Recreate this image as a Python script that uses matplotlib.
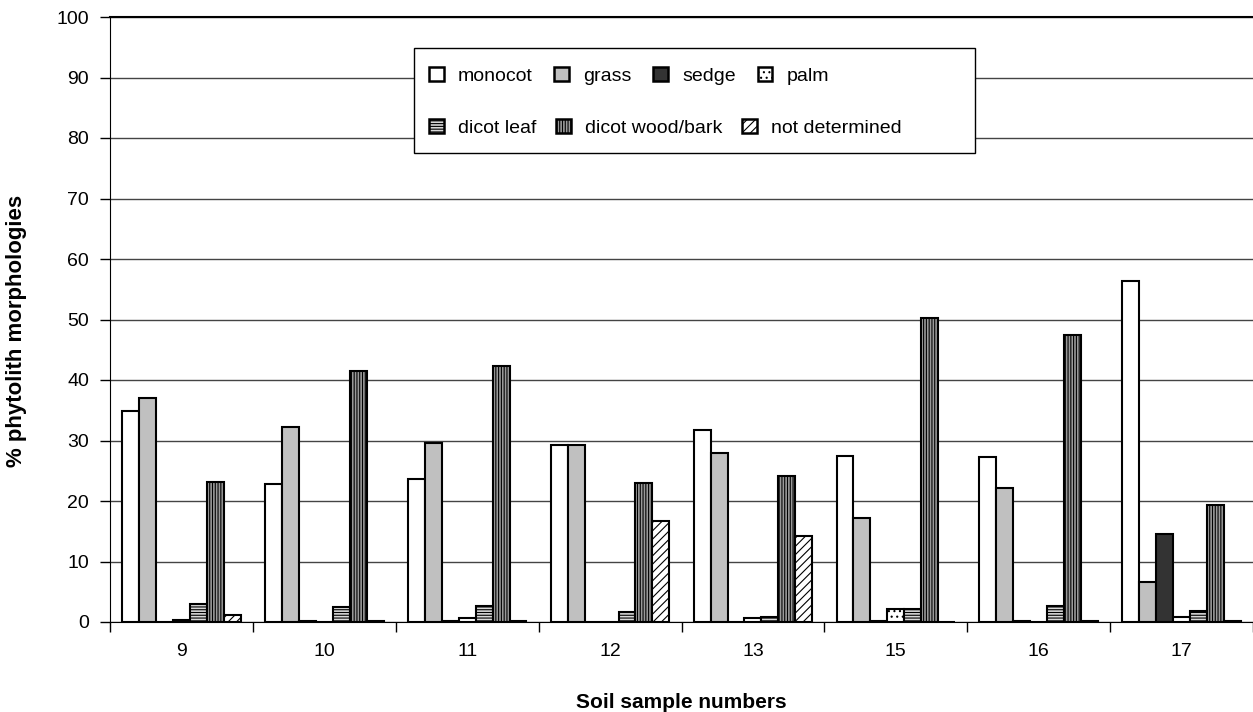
import matplotlib
matplotlib.use("Agg")
import matplotlib.pyplot as plt
import numpy as np
from matplotlib.patches import Patch, Rectangle

samples = ["9", "10", "11", "12", "13", "15", "16", "17"]
monocot = [34.9, 22.8, 23.6, 29.2, 31.8, 27.4, 27.3, 56.4]
grass = [37.1, 32.2, 29.6, 29.2, 27.9, 17.2, 22.2, 6.6]
sedge = [0.0, 0.2, 0.1, 0.0, 0.0, 0.2, 0.2, 14.5]
palm = [0.3, 0.0, 0.7, 0.0, 0.7, 2.2, 0.0, 0.8]
dicot_leaf = [2.9, 2.5, 2.6, 1.7, 0.9, 2.2, 2.6, 1.9]
dicot_wood = [23.1, 41.5, 42.3, 22.9, 24.2, 50.3, 47.4, 19.3]
not_determined = [1.2, 0.2, 0.1, 16.7, 14.2, 0.0, 0.2, 0.1]

# name, values, bar face, bar hatch
series = [
    ("monocot", monocot, "white", ""),
    ("grass", grass, "#c0c0c0", ""),
    ("sedge", sedge, "#333333", ""),
    ("palm", palm, "white", "..."),
    ("dicot leaf", dicot_leaf, "#d8d8d8", "------"),
    ("dicot wood/bark", dicot_wood, "#9a9a9a", "||||||"),
    ("not determined", not_determined, "white", "////"),
]

plt.rcParams["font.family"] = ["Liberation Sans", "DejaVu Sans"]
plt.rcParams["hatch.linewidth"] = 0.8

W, H = 1253, 712
fig = plt.figure(figsize=(W / 100, H / 100), dpi=100)
ax = fig.add_axes([110 / W, (H - 622) / H, 1 - 110 / W, (622 - 17) / H])


def ax_x(px):
    return (px - 110) / (W - 110)


def ax_y(py):
    return (622 - py) / (622 - 17)


x = np.arange(len(samples))
n = len(series)
bw = 0.83 / n
handles = []
for i, (name, vals, fc, hatch) in enumerate(series):
    pos = x - 0.415 + bw * (i + 0.5)
    ax.bar(pos, vals, width=bw, color=fc, edgecolor="black", linewidth=1.5,
           hatch=hatch, zorder=3)
    handles.append(Patch(facecolor=fc, edgecolor="black", linewidth=1.8,
                         hatch=hatch, label=name))

ax.set_xlim(-0.5, len(samples) - 0.5)
ax.set_ylim(0, 100)
ax.set_yticks(np.arange(0, 101, 10))
ax.set_xticks(x)
ax.set_xticklabels(samples)
ax.set_xticks(np.arange(-0.5, len(samples)), minor=True)
ax.tick_params(axis="x", which="major", length=0, labelsize=14, pad=15)
ax.tick_params(axis="x", which="minor", length=7, width=1)
ax.tick_params(axis="y", length=7, width=1, labelsize=14, pad=8)
ax.yaxis.grid(True, color="#444444", linewidth=1, zorder=0)
ax.set_axisbelow(True)
ax.spines["right"].set_visible(False)
ax.spines["top"].set_linewidth(1.5)

ax.set_xlabel("Soil sample numbers", fontsize=15, fontweight="bold")
ax.xaxis.set_label_coords(0.5, ax_y(693))
ax.set_ylabel("% phytolith morphologies", fontsize=16, fontweight="bold")
ax.yaxis.set_label_coords(ax_x(27), ax_y(331))

# legend box with two independently spaced rows
ax.add_patch(Rectangle((ax_x(414), ax_y(153)), ax_x(975) - ax_x(414), ax_y(48) - ax_y(153),
                       transform=ax.transAxes, facecolor="white", edgecolor="black",
                       linewidth=1.0, zorder=5))
leg_kw = dict(frameon=False, fontsize=14, loc="upper left", borderpad=0, borderaxespad=0,
              handlelength=0.75, handleheight=0.75, handletextpad=0.75)
row1 = [handles[0], handles[1], handles[2], handles[3]]
leg1 = ax.legend(handles=row1, ncol=4, columnspacing=1.1,
                 bbox_to_anchor=(ax_x(429), ax_y(67)), **leg_kw)
leg1.set_zorder(6)
ax.add_artist(leg1)
row2 = [handles[4], handles[5], handles[6]]
leg2 = ax.legend(handles=row2, ncol=3, columnspacing=1.0,
                 bbox_to_anchor=(ax_x(429), ax_y(119)), **leg_kw)
leg2.set_zorder(6)

fig.savefig("out.png", dpi=100)
